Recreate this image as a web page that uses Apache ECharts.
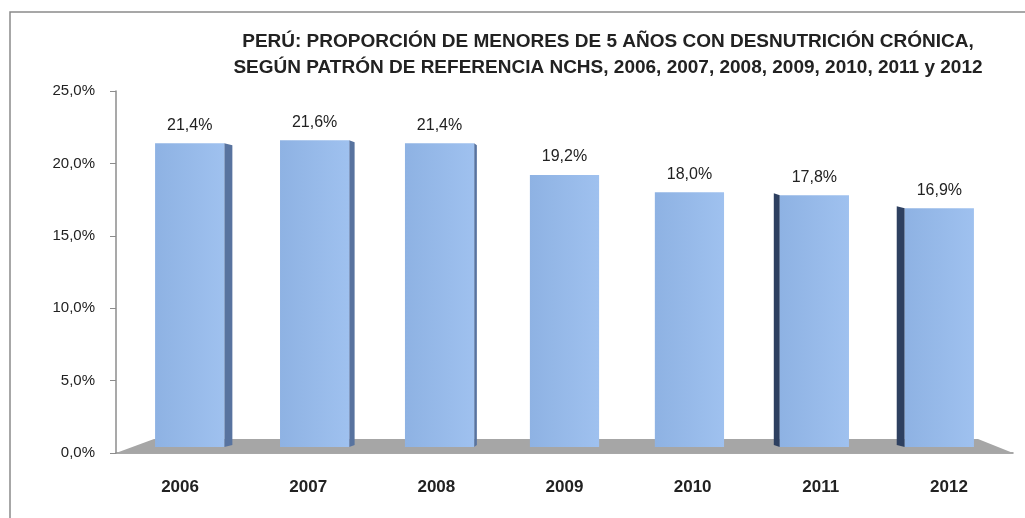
<!DOCTYPE html>
<html>
<head>
<meta charset="utf-8">
<script src="https://cdn.jsdelivr.net/npm/echarts@6/dist/echarts.min.js"></script>
<style>
html, body { margin: 0; padding: 0; background: #fff; }
#main { width: 1025px; height: 518px; }
</style>
</head>
<body>
<div id="main"></div>
<script>
// datos del grafico
var anios = ['2006', '2007', '2008', '2009', '2010', '2011', '2012'];
var valores = [21.4, 21.6, 21.4, 19.2, 18.0, 17.8, 16.9];
var titulo = [
    'PERÚ: PROPORCIÓN DE MENORES DE 5 AÑOS CON DESNUTRICIÓN CRÓNICA,',
    'SEGÚN PATRÓN DE REFERENCIA NCHS, 2006, 2007, 2008, 2009, 2010, 2011 y 2012'
];

function pct(v) {
    return v.toFixed(1).replace('.', ',') + '%';
}

var myChart = echarts.init(document.getElementById('main'));
var fuente = 'Liberation Sans';
var medio = (anios.length - 1) / 2;

// barras con una cara lateral (efecto 3D como en Excel)
function dibujaBarra(params, api) {
    var i = api.value(0);
    var v = api.value(1);
    var tope = api.coord([i, v]);
    var base = api.coord([i, 0]);
    var ancho = api.size([1, 0])[0];
    var fw = ancho * 0.54;
    var d = i - medio;
    var cx = tope[0] - d * 3.2;
    var x0 = cx - fw / 2, x1 = cx + fw / 2;
    var yt = tope[1], yb = base[1] - 6;
    var sw = d > 0 ? (d > 1 ? 2 * d + 2 : 0) : -d * 2.7;
    var hijos = [];
    if (sw > 1) {
        var lado;
        if (d < 0) {
            lado = [[x1, yt], [x1 + sw, yt + 2], [x1 + sw, yb - 2], [x1, yb]];
        } else {
            lado = [[x0, yt], [x0 - sw, yt - 2], [x0 - sw, yb - 2], [x0, yb]];
        }
        hijos.push({
            type: 'polygon',
            shape: {points: lado},
            style: {fill: d < 0 ? '#58739f' : '#2e4060'}
        });
    }
    hijos.push({
        type: 'rect',
        shape: {x: x0, y: yt, width: fw, height: yb - yt},
        style: {
            fill: new echarts.graphic.LinearGradient(0, 0, 1, 0, [
                {offset: 0, color: '#8eb2e3'},
                {offset: 1, color: '#9fc1ef'}
            ])
        }
    });
    hijos.push({
        type: 'text',
        style: {
            text: pct(v),
            x: cx,
            y: yt - 10,
            align: 'center',
            verticalAlign: 'bottom',
            fontFamily: fuente,
            fontSize: 16,
            fill: '#222'
        }
    });
    return {type: 'group', children: hijos};
}

// piso gris del grafico
function dibujaPiso(params, api) {
    var cs = params.coordSys;
    var yb = cs.y + cs.height;
    return {
        type: 'polygon',
        shape: {
            points: [
                [cs.x, yb], [cs.x + 38, yb - 14],
                [cs.x + cs.width - 35, yb - 14], [cs.x + cs.width, yb]
            ]
        },
        style: {fill: '#a6a6a6'}
    };
}

var datos = anios.map(function (a, i) { return [i, valores[i]]; });

var option = {
    backgroundColor: '#fff',
    animation: false,
    graphic: [
        {
            type: 'rect',
            shape: {x: 10, y: 12, width: 1040, height: 540},
            style: {fill: 'none', stroke: '#8a8a8a', lineWidth: 1.5}
        },
        {
            type: 'text',
            x: 608,
            y: 42,
            style: {
                text: titulo[0],
                align: 'center',
                verticalAlign: 'middle',
                fontFamily: fuente,
                fontSize: 19,
                fontWeight: 'bold',
                fill: '#222'
            }
        },
        {
            type: 'text',
            x: 608,
            y: 68,
            style: {
                text: titulo[1],
                align: 'center',
                verticalAlign: 'middle',
                fontFamily: fuente,
                fontSize: 19,
                fontWeight: 'bold',
                fill: '#222'
            }
        }
    ],
    grid: {left: 116, right: 12, top: 91, bottom: 65},
    xAxis: {
        type: 'category',
        data: anios,
        boundaryGap: true,
        axisLine: {lineStyle: {color: '#8c8c8c', width: 1.5}},
        axisTick: {length: 6, lineStyle: {color: '#8c8c8c'}},
        axisLabel: {
            margin: 26,
            fontFamily: fuente,
            fontSize: 17,
            fontWeight: 'bold',
            color: '#222'
        }
    },
    yAxis: {
        type: 'value',
        min: 0,
        max: 25,
        interval: 5,
        splitLine: {show: false},
        axisLine: {show: true, lineStyle: {color: '#8c8c8c', width: 1.5}},
        axisTick: {show: true, length: 6, lineStyle: {color: '#8c8c8c'}},
        axisLabel: {
            margin: 21,
            formatter: pct,
            fontFamily: fuente,
            fontSize: 15,
            color: '#222'
        }
    },
    series: [
        {
            type: 'custom',
            renderItem: dibujaPiso,
            data: [[0]],
            z: 1,
            silent: true
        },
        {
            type: 'custom',
            renderItem: dibujaBarra,
            encode: {x: 0, y: 1},
            data: datos,
            z: 3
        }
    ]
};

myChart.setOption(option);
</script>
</body>
</html>
